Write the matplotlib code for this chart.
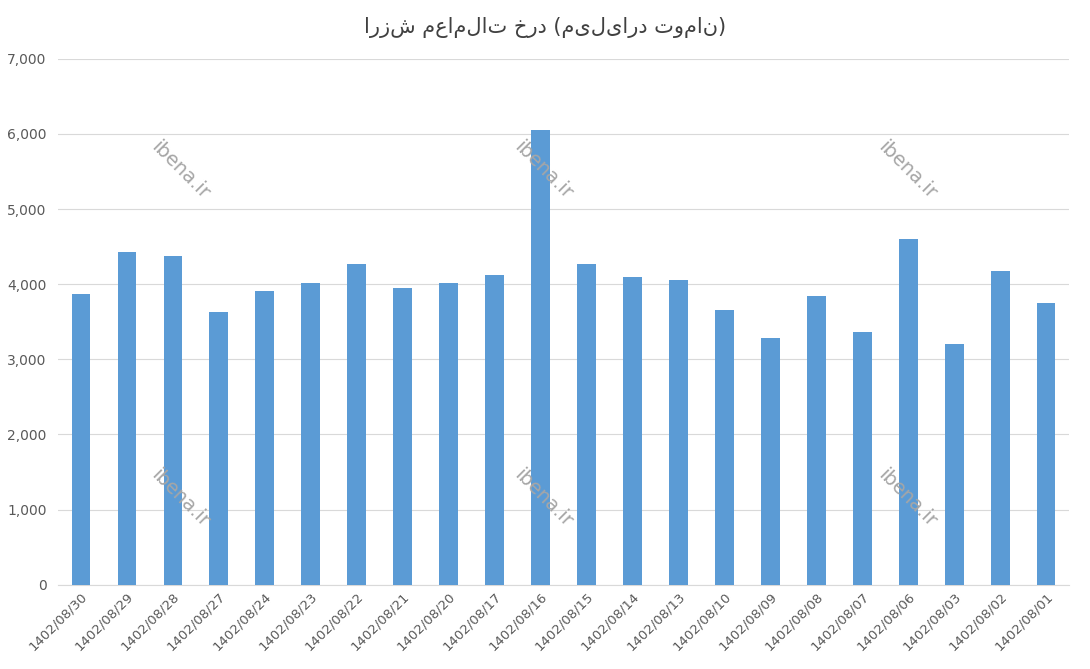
import matplotlib
matplotlib.use("Agg")
import matplotlib.pyplot as plt

dates = ["1402/08/30","1402/08/29","1402/08/28","1402/08/27","1402/08/24","1402/08/23",
         "1402/08/22","1402/08/21","1402/08/20","1402/08/17","1402/08/16","1402/08/15",
         "1402/08/14","1402/08/13","1402/08/10","1402/08/09","1402/08/08","1402/08/07",
         "1402/08/06","1402/08/03","1402/08/02","1402/08/01"]
values = [3873,4432,4378,3633,3913,4019,4272,3953,4019,4126,6055,4272,
          4099,4059,3660,3287,3846,3367,4605,3207,4179,3753]
title = "ارزش معاملات خرد (میلیارد تومان)"

fig = plt.figure(figsize=(10.9, 6.69), dpi=100)
ax = fig.add_axes([0.053, 0.126, 0.928, 0.786])
x = range(len(dates))
ax.bar(x, values, width=0.4, color="#5B9BD5", zorder=3)
ax.set_ylim(0, 7000)
ax.set_xlim(-0.5, len(dates)-0.5)
ax.set_yticks(range(0, 7001, 1000))
ax.set_yticklabels([f"{v:,}" for v in range(0, 7001, 1000)], fontsize=10, color="#595959")
ax.set_xticks(list(x))
ax.set_xticklabels(dates, rotation=45, ha="right", rotation_mode="anchor", fontsize=9.5, color="#595959")
ax.grid(axis="y", color="#D9D9D9", linewidth=0.8, zorder=0)
for s in ["top", "right", "left"]:
    ax.spines[s].set_visible(False)
ax.spines["bottom"].set_color("#D9D9D9")
ax.tick_params(length=0)
ax.tick_params(axis="y", pad=8)
fig.suptitle(title, y=0.975, fontsize=15, color="#404040", family="DejaVu Sans")

for xf in [0.165, 0.498, 0.832]:
    for yf in [0.745, 0.255]:
        fig.text(xf, yf, "ibena.ir", rotation=-45, fontsize=14, color="#A6A6A6",
                 ha="center", va="center")

fig.savefig("out.png", dpi=100)
